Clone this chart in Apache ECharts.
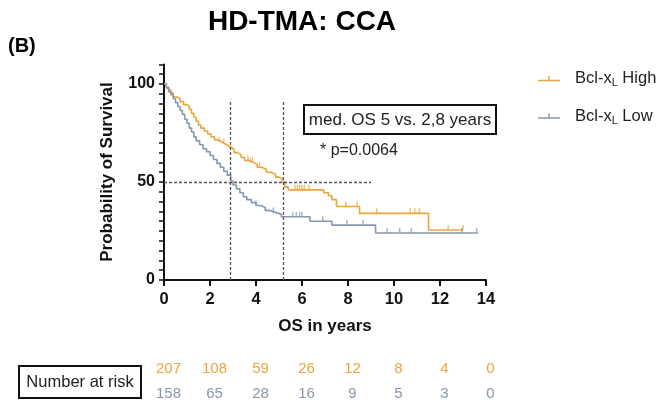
<!DOCTYPE html>
<html>
<head>
<meta charset="utf-8">
<script src="https://cdn.jsdelivr.net/npm/echarts@6/dist/echarts.min.js"></script>
<style>
html,body{margin:0;padding:0;background:#fff;}
#c{width:659px;height:406px;}
</style>
</head>
<body>
<div id="c"></div>
<script>
// ---- Data ----
var seriesNames = ['Bcl-xL High', 'Bcl-xL Low'];
var highT = [0, 0.1, 0.2, 0.3, 0.4, 0.55, 0.7, 0.85, 1.0, 1.1, 1.2, 1.3, 1.4, 1.5, 1.6, 1.75, 1.9, 2.05, 2.2, 2.35, 2.5, 2.65, 2.8, 2.95, 3.05, 3.2, 3.35, 3.5, 3.7, 3.9, 4.05, 4.25, 4.45, 4.65, 4.85, 5.0, 5.15, 5.25, 5.4, 6.95, 7.15, 7.3, 7.5, 8.5, 11.5, 13.0];
var highS = [100, 98.5, 97, 95.5, 93.5, 92.5, 91, 89.5, 88.5, 87, 85, 83, 81, 79, 77.5, 76, 74.5, 73, 71.5, 70.5, 69.5, 68.5, 67.5, 66.5, 65, 64, 62.5, 61, 60, 59, 57.5, 56.5, 55, 54, 52.5, 51.5, 50, 47.5, 46, 44.5, 43, 41, 37.5, 34, 25.5, 25.5];
var lowT = [0, 0.1, 0.2, 0.3, 0.4, 0.5, 0.6, 0.7, 0.8, 0.9, 1.0, 1.1, 1.2, 1.3, 1.4, 1.55, 1.7, 1.85, 2.0, 2.15, 2.3, 2.45, 2.6, 2.75, 2.9, 3.0, 3.15, 3.3, 3.45, 3.6, 3.8, 4.0, 4.2, 4.4, 4.6, 4.85, 5.1, 6.35, 7.3, 9.2, 13.65];
var lowS = [100, 98, 96, 94.5, 92.5, 90.5, 88.5, 86.5, 84.5, 82, 80, 77.5, 75.5, 73, 71, 69, 67, 65.5, 63.5, 61.5, 59.5, 57.5, 55.5, 53.5, 50.5, 48.5, 46.5, 44.5, 42.5, 41, 39.5, 38, 37, 35.5, 34.5, 33.5, 32.3, 30, 28, 24, 24];
var highCensor = [2.4, 2.6, 3.65, 3.75, 3.85, 4.15, 5.7, 5.8, 5.9, 6.0, 6.1, 6.3, 7.9, 8.4, 9.25, 10.7, 10.9, 11.1, 12.35, 13.0];
var lowCensor = [4.0, 4.75, 5.6, 5.75, 5.9, 6.0, 6.9, 7.95, 8.65, 9.7, 10.25, 10.75, 12.95, 13.6];
var medianTimes = [2.9, 5.2];
var medianLineTop = 92;
var halfLineEnd = 9;
var xTicks = [0, 2, 4, 6, 8, 10, 12, 14];
var riskHigh = [207, 108, 59, 26, 12, 8, 4, 0];
var riskLow = [158, 65, 28, 16, 9, 5, 3, 0];

var cHigh = '#EAA53C', cLow = '#8598AF';

function stepAt(T, S, t) { var v = S[0]; for (var i = 0; i < T.length; i++) { if (T[i] <= t) v = S[i]; } return v; }
function pairs(T, S) { return T.map(function (t, i) { return [t, S[i]]; }); }
function censorPts(C, T, S) { return C.map(function (t) { return [t, stepAt(T, S, t)]; }); }
function riskFmt(arr) { return function (v) { var i = xTicks.indexOf(v); return i >= 0 ? String(arr[i]) : ''; }; }

var mlData = medianTimes.map(function (t) { return [{ coord: [t, 0] }, { coord: [t, medianLineTop] }]; });
mlData.push([{ coord: [0, 50] }, { coord: [halfLineEnd, 50] }]);

var chart = echarts.init(document.getElementById('c'), null, { renderer: 'canvas' });
var baseX = { type: 'value', min: 0, max: 14, interval: 2, gridIndex: 0 };
var option = {
  animation: false,
  grid: { left: 164, right: 173, top: 64.4, bottom: 126, containLabel: false },
  xAxis: [
    Object.assign({}, baseX, {
      axisLine: { show: true, lineStyle: { color: '#111', width: 2 } },
      axisTick: { show: true, length: 6, lineStyle: { color: '#111', width: 2 } },
      axisLabel: { show: true, margin: 11, fontSize: 16.5, fontWeight: 'bold', color: '#111', fontFamily: 'Liberation Sans, Arial' },
      splitLine: { show: false }
    }),
    Object.assign({}, baseX, {
      position: 'bottom', axisLine: { show: false }, axisTick: { show: false }, splitLine: { show: false },
      axisLabel: { margin: 81, fontSize: 15, color: cHigh, fontFamily: 'Liberation Sans, Arial', padding: [0, 0, 0, 9], formatter: riskFmt(riskHigh) }
    }),
    Object.assign({}, baseX, {
      position: 'bottom', axisLine: { show: false }, axisTick: { show: false }, splitLine: { show: false },
      axisLabel: { margin: 106, fontSize: 15, color: cLow, fontFamily: 'Liberation Sans, Arial', padding: [0, 0, 0, 9], formatter: riskFmt(riskLow) }
    })
  ],
  yAxis: [{
    type: 'value', min: 0, max: 110, interval: 5,
    axisLine: { show: true, lineStyle: { color: '#111', width: 2 } },
    axisTick: { show: true, length: 5, lineStyle: { color: '#111', width: 1.5 } },
    axisLabel: { margin: 9, fontSize: 16, fontWeight: 'bold', color: '#111', fontFamily: 'Liberation Sans, Arial',
      formatter: function (v) { return (v % 50 === 0 && v <= 100) ? String(v) : ''; } },
    splitLine: { show: false }
  }],
  legend: {
    orient: 'vertical', left: 533, top: 65, itemGap: 19, itemWidth: 22, itemHeight: 8,
    icon: 'path://M0,7h22v1.5h-22z M10.3,3h1.4v4.5h-1.4z',
    data: seriesNames,
    formatter: function (n) { return n.replace('xL', 'x{sub|L}'); },
    textStyle: { fontSize: 16.5, color: '#222', fontFamily: 'Liberation Sans, Arial', padding: [0, 0, 0, 10],
      rich: { sub: { fontSize: 11, color: '#222', padding: [9, 0, 0, 0], fontFamily: 'Liberation Sans, Arial' } } }
  },
  series: [
    { name: seriesNames[0], type: 'line', step: 'end', data: pairs(highT, highS), showSymbol: false, symbol: 'none',
      color: cHigh, lineStyle: { color: cHigh, width: 1.6 }, z: 3,
      markLine: { silent: true, symbol: ['none', 'none'], label: { show: false },
        lineStyle: { color: '#555', width: 1.3, type: [3, 2] }, data: mlData } },
    { name: seriesNames[1], type: 'line', step: 'end', data: pairs(lowT, lowS), showSymbol: false, symbol: 'none',
      color: cLow, lineStyle: { color: cLow, width: 1.6 }, z: 3 },
    { name: seriesNames[0] + ' censored', type: 'scatter', data: censorPts(highCensor, highT, highS),
      symbol: 'rect', symbolSize: [1.3, 5], symbolOffset: [0, -2.5], itemStyle: { color: cHigh }, z: 4 },
    { name: seriesNames[1] + ' censored', type: 'scatter', data: censorPts(lowCensor, lowT, lowS),
      symbol: 'rect', symbolSize: [1.3, 5], symbolOffset: [0, -2.5], itemStyle: { color: cLow }, z: 4 }
  ],
  graphic: [
    { type: 'text', x: 302, y: 22, style: { text: 'HD-TMA: CCA', fontSize: 28, fontWeight: 'bold', fill: '#000', align: 'center', verticalAlign: 'middle', fontFamily: 'Liberation Sans, Arial' } },
    { type: 'text', left: 8, top: 36, style: { text: '(B)', fontSize: 20, fontWeight: 'bold', fill: '#000', fontFamily: 'Liberation Sans, Arial' } },
    { type: 'text', x: 107, y: 172, rotation: Math.PI / 2,
      style: { text: 'Probability of Survival', fontSize: 17, fontWeight: 'bold', fill: '#111', align: 'center', verticalAlign: 'middle', fontFamily: 'Liberation Sans, Arial' } },
    { type: 'text', x: 325, y: 326,
      style: { text: 'OS in years', fontSize: 17, fontWeight: 'bold', fill: '#111', align: 'center', verticalAlign: 'middle', fontFamily: 'Liberation Sans, Arial' } },
    { type: 'rect', shape: { x: 304, y: 105, width: 192, height: 29 }, style: { fill: '#fff', stroke: '#111', lineWidth: 2 }, z: 10 },
    { type: 'text', x: 400, y: 120, z: 11,
      style: { text: 'med. OS 5 vs. 2,8 years', fontSize: 17, fill: '#222', align: 'center', verticalAlign: 'middle', fontFamily: 'Liberation Sans, Arial' } },
    { type: 'text', x: 320, y: 151, z: 11,
      style: { text: '* p=0.0064', fontSize: 16, fill: '#222', align: 'left', verticalAlign: 'middle', fontFamily: 'Liberation Sans, Arial' } },
    { type: 'rect', shape: { x: 19, y: 366, width: 122, height: 32 }, style: { fill: '#fff', stroke: '#111', lineWidth: 2 } },
    { type: 'text', x: 80, y: 382,
      style: { text: 'Number at risk', fontSize: 16.5, fill: '#222', align: 'center', verticalAlign: 'middle', fontFamily: 'Liberation Sans, Arial' } }
  ]
};
chart.setOption(option);
</script>
</body>
</html>
